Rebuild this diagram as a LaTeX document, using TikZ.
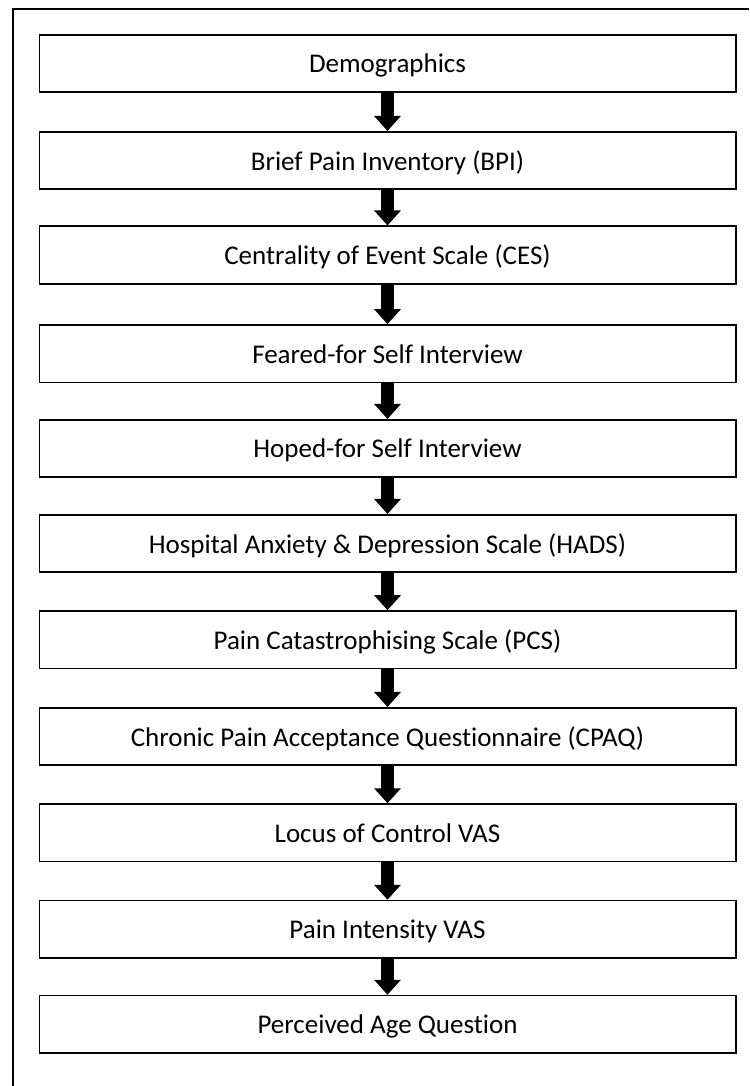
\documentclass[tikz,border=0pt]{standalone}
\usepackage{fontspec}
\setmainfont{Carlito}[Ligatures=NoCommon]
\usetikzlibrary{arrows.meta}
\tikzset{
  stepbox/.style={draw=black, line width=1.6pt, rectangle, minimum width=696.4pt, minimum height=57.5pt, inner sep=0pt, text depth=-5pt, font=\fontsize{27}{32}\selectfont},
  flowarrow/.style={line width=13pt, -{Triangle[width=26pt,length=15pt]}},
  frameline/.style={line width=1.6pt, draw=black}
}
\begin{document}
\begin{tikzpicture}[x=1pt,y=-1pt]
\useasboundingbox (0,0) rectangle (749,1086);
\draw[frameline] (13,1086) -- (13,9) -- (749,9);
\node[stepbox] (b1) at (387.5,63.5) {Demographics};
\node[stepbox] (b2) at (387.5,160.5) {Brief Pain Inventory (BPI)};
\node[stepbox] (b3) at (387.5,255) {Centrality of Event Scale (CES)};
\node[stepbox] (b4) at (387.5,353.7) {Feared-for Self Interview};
\node[stepbox] (b5) at (387.5,448.5) {Hoped-for Self Interview};
\node[stepbox] (b6) at (387.5,543.5) {Hospital Anxiety \& Depression Scale (HADS)};
\node[stepbox] (b7) at (387.5,639.7) {Pain Catastrophising Scale (PCS)};
\node[stepbox] (b8) at (387.5,736.5) {Chronic Pain Acceptance Questionnaire (CPAQ)};
\node[stepbox] (b9) at (387.5,832.8) {Locus of Control VAS};
\node[stepbox] (b10) at (387.5,929.3) {Pain Intensity VAS};
\node[stepbox] (b11) at (387.5,1024.3) {Perceived Age Question};
\foreach \a/\b in {b1/b2,b2/b3,b3/b4,b4/b5,b5/b6,b6/b7,b7/b8,b8/b9,b9/b10,b10/b11}
  \draw[flowarrow] (\a.south) -- (\b.north);
\end{tikzpicture}
\end{document}
